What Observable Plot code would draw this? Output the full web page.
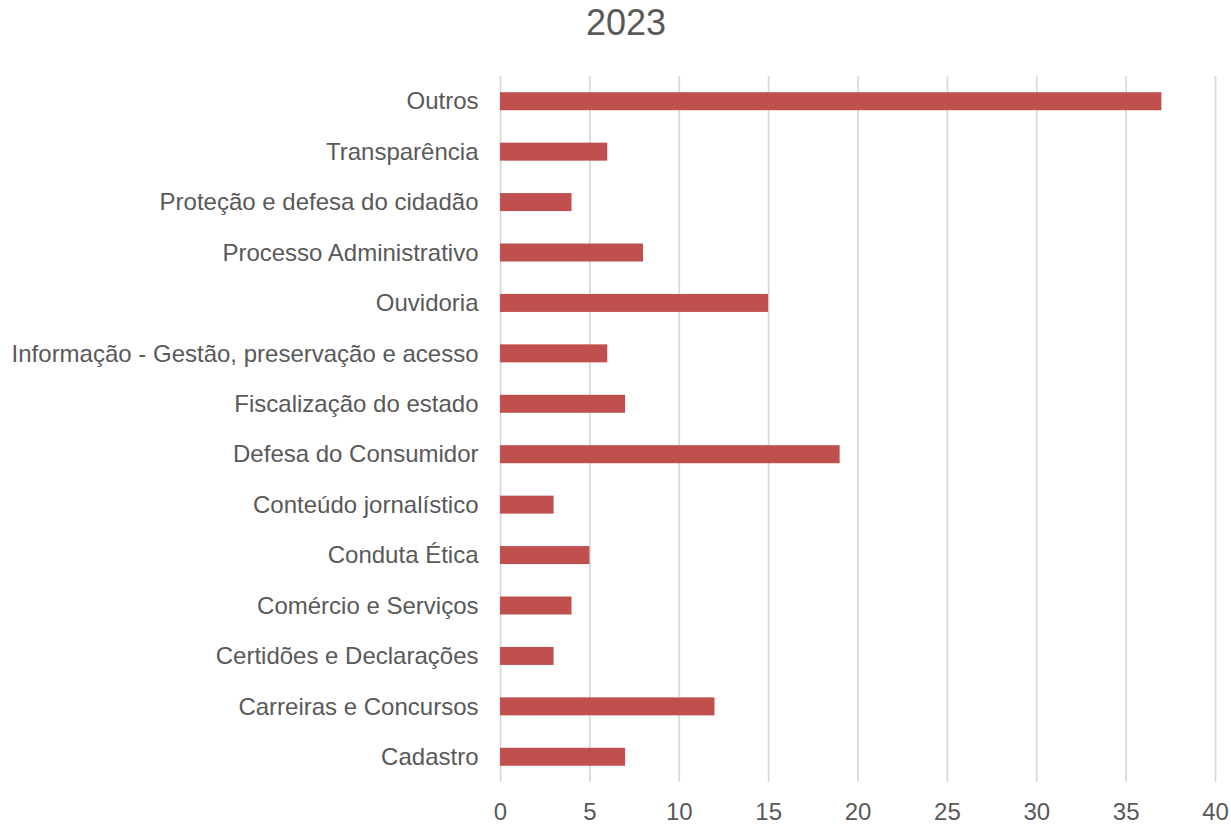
<!DOCTYPE html>
<html>
<head>
<meta charset="utf-8">
<script src="https://cdn.jsdelivr.net/npm/d3@7"></script>
<script src="https://cdn.jsdelivr.net/npm/@observablehq/plot@0.6"></script>
<style>
  html, body { margin: 0; padding: 0; background: #fff; }
  #title { height: 50px; line-height: 46px; font-family: "Liberation Sans", Arial, sans-serif; font-size: 36px; color: #595959; text-align: center; padding-left: 21px; box-sizing: border-box; width: 1231px; }
  #chart svg { display: block; }
</style>
</head>
<body>
<div id="title">2023</div>
<div id="chart"></div>
<script>
const categories = [
  "Outros",
  "Transparência",
  "Proteção e defesa do cidadão",
  "Processo Administrativo",
  "Ouvidoria",
  "Informação - Gestão, preservação e acesso",
  "Fiscalização do estado",
  "Defesa do Consumidor",
  "Conteúdo jornalístico",
  "Conduta Ética",
  "Comércio e Serviços",
  "Certidões e Declarações",
  "Carreiras e Concursos",
  "Cadastro"
];
const values = [37, 6, 4, 8, 15, 6, 7, 19, 3, 5, 4, 3, 12, 7];
const xTicks = [0, 5, 10, 15, 20, 25, 30, 35, 40];

const data = categories.map((c, i) => ({category: c, value: values[i]}));

const chart = Plot.plot({
  width: 1231,
  height: 775,
  marginTop: 26,
  marginBottom: 43,
  marginLeft: 500,
  marginRight: 16,
  style: {fontFamily: "'Liberation Sans', Arial, sans-serif", fontSize: "24px", color: "#595959", background: "#fff"},
  x: {domain: [0, 40], ticks: xTicks, label: null, tickSize: 0, tickPadding: 20},
  y: {domain: categories, label: null, tickSize: 0, tickPadding: 22, paddingInner: 0.643, paddingOuter: 0.3215, round: false},
  marks: [
    Plot.gridX(xTicks, {stroke: "#d9d9d9", strokeOpacity: 1, strokeWidth: 1.8}),
    Plot.barX(data, {x: "value", y: "category", fill: "#C0504D"}),
    Plot.axisX({ticks: xTicks, tickSize: 0, tickPadding: 20, label: null, fill: "#595959"}),
    Plot.axisY({tickSize: 0, tickPadding: 22, label: null, fill: "#595959"})
  ]
});
document.getElementById("chart").appendChild(chart);
</script>
</body>
</html>
